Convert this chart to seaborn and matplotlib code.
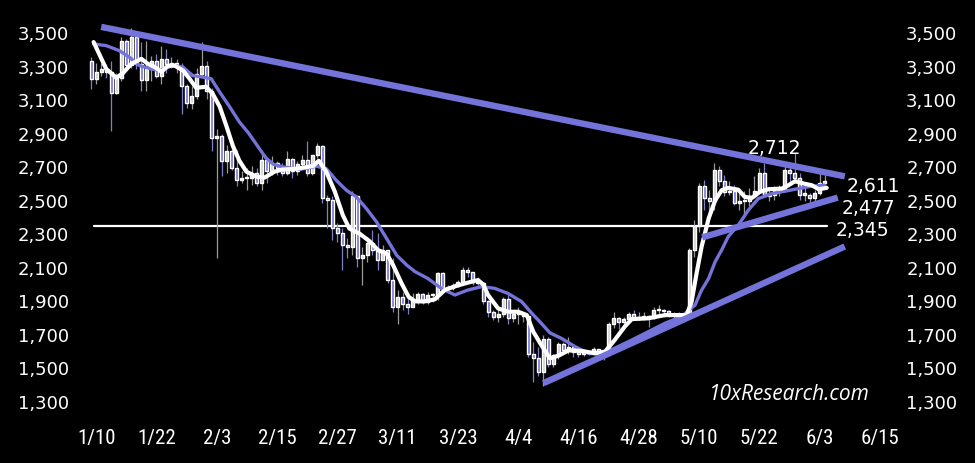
import pandas as pd
import numpy as np
import matplotlib.pyplot as plt
import seaborn as sns
from matplotlib import font_manager

# daily candles, 1/9 .. 6/4 (open = previous close)
first_open = 3330
close = [3220, 3265, 3282, 3265, 3135, 3225, 3450, 3305, 3475, 3310, 3215, 3280, 3330, 3240, 3340, 3310, 3320, 3300, 3180, 3080, 3120, 3250, 3300,
         3150, 2870, 2880, 2730, 2790, 2690, 2620, 2630, 2630, 2660, 2600, 2740, 2670, 2720, 2690, 2660, 2745, 2670, 2715, 2740, 2660, 2765, 2820, 2510, 2500, 2330, 2300, 2230,
         2220, 2520, 2150, 2170, 2240, 2200, 2140, 2200, 2020, 1860, 1920, 1880, 1860, 1910, 1935, 1890, 1930, 1930, 2060, 1980, 1970, 1985, 2010, 2080, 2070, 2010, 2000, 1895, 1830, 1800, 1820,
         1905, 1795, 1815, 1815, 1805, 1580, 1555, 1470, 1670, 1520, 1570, 1640, 1600, 1620, 1590, 1580, 1585, 1590, 1610, 1585, 1580, 1755, 1795, 1770, 1785, 1820, 1790, 1800, 1800, 1795,
         1840, 1840, 1835, 1810, 1815, 1810, 1810, 2200, 2345, 2580, 2510, 2495, 2680, 2610, 2545, 2550, 2480, 2490, 2495, 2525, 2550, 2660, 2520, 2530, 2550, 2565, 2680, 2660, 2630, 2530, 2530,
         2510, 2540, 2600, 2610]
high = [3350, 3320, 3320, 3310, 3330, 3260, 3470, 3460, 3525, 3450, 3440, 3450, 3360, 3370, 3420, 3400, 3350, 3340, 3320, 3190, 3180, 3290, 3440,
        3330, 3170, 2920, 2890, 2830, 2830, 2800, 2670, 2690, 2700, 2690, 2790, 2720, 2760, 2730, 2720, 2790, 2750, 2730, 2770, 2850, 2770, 2840, 2830, 2530, 2520, 2360, 2330,
        2270, 2550, 2520, 2220, 2280, 2320, 2300, 2230, 2200, 2150, 1960, 1950, 1920, 1940, 1950, 1940, 1950, 1940, 2070, 2070, 1990, 2000, 2020, 2100, 2100, 2070, 2040, 2010, 1900, 1840, 1860,
        1920, 1950, 1830, 1860, 1820, 1820, 1650, 1620, 1690, 1680, 1580, 1650, 1650, 1680, 1640, 1600, 1600, 1600, 1620, 1610, 1600, 1770, 1830, 1800, 1800, 1830, 1840, 1830, 1830, 1810,
        1860, 1870, 1850, 1840, 1830, 1830, 1830, 2210, 2380, 2600, 2620, 2560, 2720, 2700, 2650, 2610, 2590, 2540, 2550, 2570, 2640, 2690, 2720, 2560, 2580, 2590, 2710, 2700, 2780, 2660, 2600,
        2540, 2560, 2660, 2650]
low = [3160, 3190, 3240, 3230, 2910, 3130, 3210, 3270, 3290, 3280, 3150, 3150, 3210, 3230, 3190, 3260, 3290, 3260, 3010, 3050, 3040, 3100, 3240,
       3100, 2790, 2150, 2640, 2660, 2680, 2580, 2600, 2560, 2590, 2580, 2560, 2600, 2650, 2650, 2640, 2650, 2630, 2650, 2700, 2640, 2650, 2750, 2480, 2330, 2260, 2250, 2080,
       2150, 2170, 2100, 1990, 2130, 2170, 2080, 2180, 2000, 1830, 1760, 1840, 1820, 1860, 1880, 1880, 1880, 1890, 1900, 1950, 1940, 1960, 1980, 2000, 2040, 1990, 1990, 1880, 1800, 1780, 1770,
       1800, 1760, 1770, 1760, 1770, 1560, 1410, 1450, 1390, 1500, 1500, 1550, 1580, 1580, 1560, 1560, 1565, 1575, 1580, 1570, 1540, 1575, 1735, 1730, 1740, 1770, 1780, 1780, 1780, 1740,
       1790, 1810, 1800, 1800, 1780, 1770, 1790, 1800, 2160, 2310, 2440, 2400, 2440, 2580, 2520, 2530, 2470, 2440, 2400, 2460, 2510, 2540, 2520, 2490, 2500, 2520, 2550, 2600, 2600, 2500, 2490,
       2480, 2490, 2530, 2580]

# moving averages (days after 1/10)
fast_day = [-0.5, 2.0, 4.0, 5.3, 7.0, 9.0, 10.3, 11.6, 13.0, 14.3, 15.6, 17.3, 18.6, 19.9, 21.9, 23.2, 24.6, 25.9, 27.2, 28.5, 29.9, 31.9,
            33.5, 35.5, 37.0, 40.0, 43.2, 44.3, 45.8, 47.5, 49.1, 50.4, 52.4, 54.4, 56.1, 57.8, 59.1, 60.8, 62.2, 63.5, 65.4, 67.4, 69.4,
            71.4, 74.0, 76.0, 77.0, 78.0, 80.0, 82.0, 84.0, 85.7, 87.0, 88.6, 90.3, 92.0, 94.0, 96.6, 99.3, 101.3, 103.2, 105.2, 106.6,
            109.9, 113.2, 116.5, 117.5, 118.5, 119.5, 120.5, 121.9, 123.2, 124.5, 125.8, 127.8, 129.1, 130.5, 132.1, 133.8, 136.5, 137.8,
            139.1, 140.8, 142.4, 143.8, 145.4]
fast_val = [3442, 3282, 3229, 3255, 3312, 3342, 3312, 3294, 3265, 3300, 3302, 3272, 3223, 3169, 3175, 3133, 3056, 2943, 2823, 2734, 2668, 2638,
            2632, 2668, 2680, 2686, 2702, 2733, 2668, 2549, 2408, 2328, 2298, 2253, 2199, 2179, 2110, 2000, 1920, 1893, 1893, 1905, 1961,
            1983, 2005, 2020, 1995, 1931, 1851, 1831, 1831, 1811, 1712, 1632, 1553, 1568, 1600, 1597, 1583, 1593, 1662, 1742, 1787,
            1792, 1811, 1811, 1810, 1890, 2060, 2220, 2388, 2497, 2557, 2571, 2560, 2517, 2511, 2547, 2563, 2567, 2587,
            2611, 2597, 2587, 2563, 2571]
slow_day = [-0.5, 2.0, 4.6, 6.6, 8.6, 10.6, 12.6, 15.3, 17.3, 19.2, 21.2, 22.9, 24.6, 26.6, 28.5, 30.3, 32.5, 33.8, 35.3, 37.2, 40.6, 43.9,
            45.8, 47.8, 49.8, 51.8, 53.8, 55.8, 57.8, 59.8, 61.8, 63.5, 66.0, 68.7, 71.4, 74.0, 76.7, 79.3, 82.0, 84.7, 86.7, 88.6, 90.3,
            92.6, 95.3, 97.9, 100.6, 103.2, 106.6, 109.9, 113.2, 116.5, 119.2, 120.5, 121.9, 123.2, 124.5, 125.8, 127.8, 129.8, 131.8,
            134.5, 137.1, 139.8, 142.4, 145.0]
slow_val = [3431, 3421, 3391, 3352, 3302, 3285, 3272, 3302, 3292, 3242, 3233, 3223, 3143, 3054, 2965, 2900, 2805, 2750, 2712, 2696, 2682, 2700,
            2686, 2616, 2557, 2517, 2447, 2368, 2269, 2169, 2110, 2070, 2030, 1971, 1931, 1961, 1981, 1971, 1940, 1891, 1822, 1762, 1705,
            1672, 1623, 1583, 1577, 1613, 1662, 1712, 1762, 1802, 1871, 1960, 2030, 2130, 2200, 2280, 2348, 2438, 2507,
            2537, 2551, 2567, 2581, 2587]

# trend lines (days after 1/10, price)
top_day, top_val = [1.0, 149.0], [3533, 2640]
mid_day, mid_val = [120.6, 147.6], [2275, 2513]
low_day, low_val = [89.0, 149.0], [1404, 2221]
level = 2345
level_day = [-0.5, 145.5]

labels = ['2,712', '2,611', '2,477', '2,345']
label_day = [135.0, 149.3, 148.3, 147.2]
label_val = [2812, 2585, 2452, 2320]

BLUE = '#7373d9'
sns.set_theme(style='dark', rc={'figure.facecolor': 'black', 'axes.facecolor': 'black'})
plt.rcParams['font.family'] = ['DejaVu Sans']

fig = plt.figure(figsize=(9.75, 4.64), dpi=100)
ax = fig.add_axes([0.0821, 0.1164, 0.8359, 0.8405])

base = pd.Timestamp('2025-01-10')
df = pd.DataFrame({'date': pd.date_range('2025-01-09', periods=len(close)),
                   'close': close, 'high': high, 'low': low})
df['open'] = [first_open] + close[:-1]
up = df['close'] >= df['open']
col = np.where(up, '#d2d2d2', BLUE)
ax.vlines(df['date'], df['low'], df['high'], colors=np.where(up, '#9a9a9a', '#8080c8'), lw=0.9, zorder=2)
body = (df['close'] - df['open']).abs().clip(lower=8)
ax.bar(df['date'], body, bottom=df[['open', 'close']].min(axis=1), width=0.6, color=col, zorder=3)

ax.plot(base + pd.to_timedelta(level_day, unit='D'), [level, level], color='white', lw=1.6, zorder=1)

slow = pd.DataFrame({'date': base + pd.to_timedelta(slow_day, unit='D'), 'v': slow_val})
fast = pd.DataFrame({'date': base + pd.to_timedelta(fast_day, unit='D'), 'v': fast_val})
sns.lineplot(data=slow, x='date', y='v', ax=ax, color=BLUE, lw=2.4, zorder=4)
sns.lineplot(data=fast, x='date', y='v', ax=ax, color='white', lw=3.0, zorder=5)

for d, v in [(top_day, top_val), (mid_day, mid_val), (low_day, low_val)]:
    ax.plot(base + pd.to_timedelta(d, unit='D'), v, color=BLUE, lw=4.6, zorder=6, solid_capstyle='butt')

for t, d, v in zip(labels, label_day, label_val):
    ha = 'center' if t == '2,712' else 'left'
    ax.text(base + pd.Timedelta(days=d), v, t, color='white', fontsize=13.5, ha=ha, va='center', zorder=7)

ax.text(0.969, 0.04, '10xResearch.com', transform=ax.transAxes, color='white', fontsize=15,
        style='italic', ha='right', va='center', family=['Open Sans', 'DejaVu Sans'])

ax.set_xlim(base - pd.Timedelta(days=3.2), base + pd.Timedelta(days=159))
ax.set_ylim(1250, 3580)
yt = list(range(1300, 3501, 200))
ax.set_yticks(yt)
ax.set_yticklabels([f'{v:,}' for v in yt])
xt = pd.date_range(base, periods=14, freq='12D')
ax.set_xticks(xt)
names = {f.name for f in font_manager.fontManager.ttflist}
narrow = [n for n in ['Liberation Sans Narrow', 'Roboto Condensed', 'Open Sans Condensed'] if n in names]
if narrow:
    ax.set_xticklabels([f'{t.month}/{t.day}' for t in xt], fontfamily=narrow[0], fontsize=15)
else:
    ax.set_xticklabels([f'{t.month}/{t.day}' for t in xt], fontfamily='DejaVu Sans', fontstretch='condensed', fontsize=14)
ax.tick_params(axis='y', labelleft=True, labelright=True, colors='white', labelsize=13, length=0, pad=8)
ax.tick_params(axis='x', colors='white', length=0, pad=14)
ax.set_xlabel('')
ax.set_ylabel('')
ax.grid(False)
for s in ax.spines.values():
    s.set_visible(False)

fig.savefig('out.png', dpi=100, facecolor='black')
